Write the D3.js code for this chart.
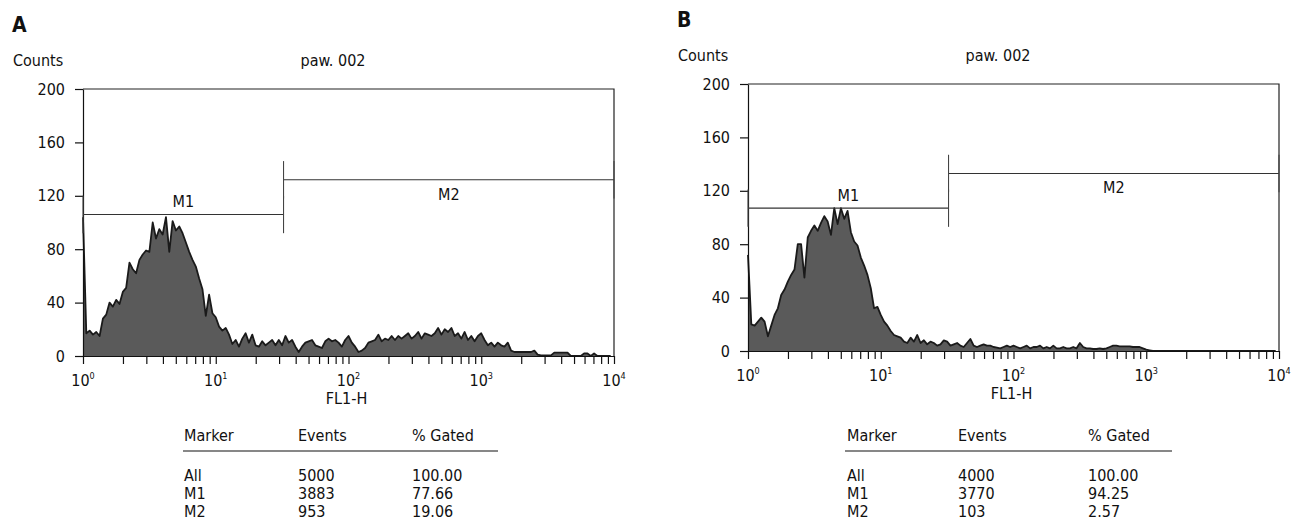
<!DOCTYPE html>
<html>
<head>
<meta charset="utf-8">
<script src="https://cdn.jsdelivr.net/npm/d3@7"></script>
<style>
  body { margin: 0; background: #fff; }
  svg text { font-family: "Liberation Sans Narrow", "Arial Narrow", "DejaVu Sans Condensed", sans-serif; fill: #111; }
</style>
</head>
<body>
<svg id="chart" width="1292" height="524"></svg>
<script>
// FL1-H histograms: counts per channel, 40 channels per decade starting at 10^0
var countsA = [
  104, 17, 19, 16, 18, 15, 28, 31, 40, 37,
  42, 39, 48, 51, 70, 65, 62, 72, 76, 79,
  78, 100, 88, 95, 91, 104, 78, 101, 94, 97,
  92, 85, 78, 72, 67, 58, 50, 30, 46, 32,
  29, 22, 19, 21, 16, 9, 12, 7, 13, 17,
  10, 16, 8, 7, 11, 8, 10, 12, 8, 12,
  8, 15, 10, 12, 7, 3, 7, 10, 11, 12,
  8, 7, 6, 11, 13, 11, 12, 10, 7, 12,
  15, 10, 7, 3, 4, 6, 10, 11, 12, 16,
  11, 13, 12, 15, 12, 15, 13, 15, 17, 13,
  15, 18, 13, 17, 16, 15, 17, 21, 16, 20,
  18, 21, 15, 17, 13, 18, 12, 15, 11, 15,
  17, 12, 8, 10, 7, 10, 8, 7, 10, 4,
  3, 3, 3, 3, 3, 3, 4, 1, 0.5, 0.5,
  0.5, 0.5, 2.5, 2.5, 2.5, 2.5, 2.5, 0, 0, 0,
  0, 2, 2, 0, 2, 0, 0, 0, 0, 0
];
var countsB = [
  72, 20, 19, 22, 25, 22, 11, 19, 27, 32,
  42, 46, 52, 57, 61, 80, 80, 55, 85, 90,
  94, 90, 96, 101, 97, 87, 107, 95, 107, 99,
  105, 89, 82, 79, 70, 64, 57, 47, 32, 33,
  27, 22, 19, 15, 12, 11, 10, 7, 6, 10,
  7, 12, 6, 8, 5, 7, 6, 4, 5, 8,
  7, 4, 5, 6, 4, 3, 6, 9, 4, 3,
  4, 5, 4, 4, 3, 2.5, 2, 3, 4, 3,
  4, 3, 2, 3, 4, 2, 3, 3, 4, 2,
  3, 2, 4, 2, 2, 3, 2, 2, 3, 2,
  6, 3, 2, 2, 1.5, 1.5, 2, 1.5, 2, 3,
  4, 4, 3.5, 3.5, 3.5, 3.5, 3, 3, 3, 2,
  1, 0.5, 0, 0, 0, 0, 0, 0, 0, 0,
  0, 0, 0, 0, 0, 0, 0, 0, 0, 0,
  0, 0, 0, 0, 0, 0, 0, 0, 0, 0,
  0, 0, 0, 0, 0, 0, 0, 0, 0, 0
];
var channelsPerDecade = 40;

var yTicks = [0, 40, 80, 120, 160, 200];
var xDecades = [0, 1, 2, 3, 4];

// marker gates: M1 = 10^0 .. split, M2 = split .. 10^4
var gateSplit = 32.4;
var markerLevelsA = [106, 132];
var markerLevelsB = [107, 133];

var markerNames = ["All", "M1", "M2"];
var eventsA = [5000, 3883, 953];
var gatedA = ["100.00", "77.66", "19.06"];
var eventsB = [4000, 3770, 103];
var gatedB = ["100.00", "94.25", "2.57"];
var tableHeads = ["Marker", "Events", "% Gated"];

var W = 531, H = 267;
var svg = d3.select("#chart");

var panels = [
  {letter: "A", left: 83, top: 89, counts: countsA, levels: markerLevelsA,
   events: eventsA, gated: gatedA, cols: [101, 215, 329], rule: [100, 415]},
  {letter: "B", left: 748, top: 84, counts: countsB, levels: markerLevelsB,
   events: eventsB, gated: gatedB, cols: [99, 210, 340], rule: [97, 424]}
];

panels.forEach(drawPanel);

function drawPanel(p) {
  var g = svg.append("g").attr("transform", "translate(" + p.left + "," + p.top + ")");

  var x = d3.scaleLog().domain([1, 1e4]).range([0, W]);
  var y = d3.scaleLinear().domain([0, 200]).range([H, 0]);

  var fl = function(i) { return Math.pow(10, i / channelsPerDecade); };

  // histogram
  var area = d3.area()
    .x(function(d, i) { return x(fl(i)); })
    .y0(y(0))
    .y1(function(d) { return y(d); });
  var line = d3.line()
    .x(function(d, i) { return x(fl(i)); })
    .y(function(d) { return y(d); });

  g.append("path").datum(p.counts)
    .attr("d", area)
    .attr("fill", "#5a5a5a");
  g.append("path").datum(p.counts)
    .attr("d", line)
    .attr("fill", "none")
    .attr("stroke", "#1a1a1a")
    .attr("stroke-width", 1.8)
    .attr("stroke-linejoin", "round");

  // frame top + right
  g.append("path")
    .attr("d", "M0,0H" + W + "V" + H)
    .attr("fill", "none")
    .attr("stroke", "#222")
    .attr("stroke-width", 1.2);

  // y axis
  var yAxis = g.append("g")
    .call(d3.axisLeft(y).tickValues(yTicks).tickSize(8).tickPadding(10).tickSizeOuter(0));
  yAxis.selectAll("text").style("font-size", "16px");
  yAxis.selectAll("path, line").attr("stroke", "#111").attr("stroke-width", 1.2);

  // x axis, minor ticks 2..9 each decade
  var xTicks = [];
  xDecades.forEach(function(e) {
    for (var k = 1; k <= 9; k++) {
      var v = k * Math.pow(10, e);
      if (v <= 1e4) xTicks.push(v);
    }
  });
  var xAxis = g.append("g")
    .attr("transform", "translate(0," + H + ")")
    .call(d3.axisBottom(x).tickValues(xTicks).tickSize(8).tickFormat("").tickSizeOuter(0));
  xAxis.selectAll("path, line").attr("stroke", "#111").attr("stroke-width", 1.2);

  var xl = g.append("g").selectAll("text")
    .data(xDecades).enter().append("text")
    .attr("x", function(e) { return x(Math.pow(10, e)); })
    .attr("y", H + 30)
    .attr("text-anchor", "middle")
    .style("font-size", "16px");
  xl.append("tspan").text("10");
  xl.append("tspan").attr("dy", -7).style("font-size", "9px").text(function(e) { return e; });

  g.append("text").attr("x", x(100) - 2).attr("y", H + 48)
    .attr("text-anchor", "middle").style("font-size", "16px").text("FL1-H");

  // titles
  g.append("text").attr("x", -71).attr("y", -57)
    .style("font-size", "21px").style("font-weight", "bold").text(p.letter);
  g.append("text").attr("x", -70).attr("y", -23)
    .style("font-size", "16px").text("Counts");
  g.append("text").attr("x", 250).attr("y", -23)
    .attr("text-anchor", "middle").style("font-size", "16px").text("paw. 002");

  // markers
  var markers = [
    {name: "M1", from: 1, to: gateSplit, level: p.levels[0], labelDy: -7},
    {name: "M2", from: gateSplit, to: 1e4, level: p.levels[1], labelDy: 20}
  ];
  markers.forEach(function(m) {
    var mg = g.append("g");
    mg.append("line")
      .attr("x1", x(m.from)).attr("x2", x(m.to))
      .attr("y1", y(m.level)).attr("y2", y(m.level))
      .attr("stroke", "#333").attr("stroke-width", 1.1);
    [m.from, m.to].forEach(function(v) {
      mg.append("line")
        .attr("x1", x(v)).attr("x2", x(v))
        .attr("y1", y(m.level - 14)).attr("y2", y(m.level + 14))
        .attr("stroke", "#444").attr("stroke-width", 1.1);
    });
    mg.append("text")
      .attr("x", (x(m.from) + x(m.to)) / 2)
      .attr("y", y(m.level) + m.labelDy)
      .attr("text-anchor", "middle")
      .style("font-size", "16px")
      .text(m.name);
  });

  // stats table
  var t = svg.append("g").attr("transform", "translate(" + p.left + ",0)");
  t.selectAll(".head").data(tableHeads).enter().append("text")
    .attr("x", function(d, i) { return p.cols[i]; })
    .attr("y", 441)
    .style("font-size", "16px")
    .text(function(d) { return d; });
  t.append("line")
    .attr("x1", p.rule[0]).attr("x2", p.rule[1])
    .attr("y1", 451).attr("y2", 451)
    .attr("stroke", "#111").attr("stroke-width", 1.2);
  markerNames.forEach(function(name, r) {
    var row = [name, p.events[r], p.gated[r]];
    t.selectAll(".r" + r).data(row).enter().append("text")
      .attr("x", function(d, i) { return p.cols[i]; })
      .attr("y", 481 + r * 18)
      .style("font-size", "16px")
      .text(function(d) { return d; });
  });
}
</script>
</body>
</html>
